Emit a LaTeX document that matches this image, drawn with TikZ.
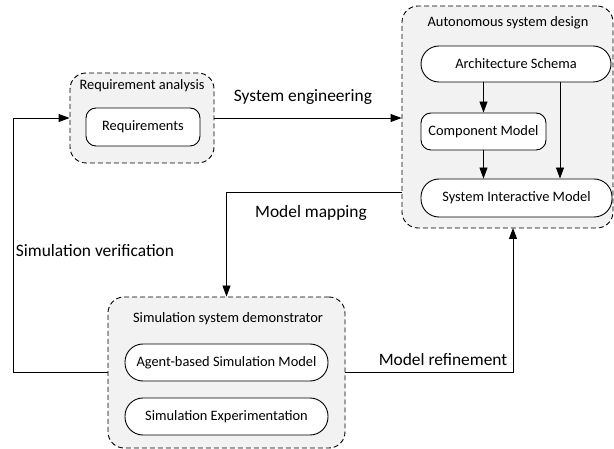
\documentclass[tikz,border=0pt]{standalone}
\usepackage{fontspec}
\setmainfont{Carlito}
\usetikzlibrary{arrows.meta}
\definecolor{groupfill}{HTML}{F2F2F2}
\begin{document}
\begin{tikzpicture}[x=1pt,y=-1pt,
  grp/.style={draw=black, line width=0.9pt, dash pattern=on 5pt off 3pt, fill=groupfill, rounded corners=16pt, inner sep=0pt},
  inbox/.style={draw=black, line width=0.9pt, fill=white, inner sep=0pt, font=\fontsize{14.4}{17}\selectfont},
  pill/.style={inbox, rounded corners=18pt},
  rbox/.style={inbox, rounded corners=10pt},
  ttl/.style={inner sep=0pt, font=\fontsize{14.4}{17}\selectfont},
  lbl/.style={inner sep=0pt, font=\fontsize{17.4}{20}\selectfont},
  arr/.style={line width=0.9pt, -{Triangle[length=11pt,width=8pt]}},
  ln/.style={line width=0.9pt}
]
\useasboundingbox (0,0) rectangle (614,449);

% Requirement analysis group
\node[grp, minimum width=144pt, minimum height=90pt] (req) at (142,118) {};
\node[ttl] (reqt) at (142,86) {Requirement analysis};
\node[rbox, minimum width=114pt, minimum height=38pt] (reqs) at (143,127) {Requirements};

% Autonomous system design group
\node[grp, minimum width=211pt, minimum height=222pt] (auto) at (507.5,117) {};
\node[ttl] (autot) at (508,23) {Autonomous system design};
\node[pill, minimum width=190pt, minimum height=36pt] (arch) at (516,64) {Architecture Schema};
\node[rbox, minimum width=125pt, minimum height=37pt] (comp) at (483.5,131.5) {Component Model};
\node[pill, minimum width=191pt, minimum height=38pt] (sim) at (516.5,198) {System Interactive Model};

% Simulation system demonstrator group
\node[grp, minimum width=237pt, minimum height=151pt] (simg) at (226.5,372.5) {};
\node[ttl] (simt) at (228,319) {Simulation system demonstrator};
\node[pill, minimum width=203pt, minimum height=37pt] (agent) at (226.5,362.5) {Agent-based Simulation Model};
\node[pill, minimum width=203pt, minimum height=37pt] (exp) at (226.5,416.5) {Simulation Experimentation};

% inner arrows
\draw[arr] (comp.north |- arch.south) -- (comp.north);
\draw[arr] (comp.south) -- (comp.south |- sim.north);
\coordinate (a2s) at (560,82);
\draw[arr] (a2s) -- (a2s |- sim.north);

% connectors
\draw[arr] (req.east) -- (auto.west |- req.east);
\node[lbl] (lse) at (303,97) {System engineering};

\coordinate (mm) at (402,192);
\draw[arr] (mm) -| (simg.north);
\node[lbl] (lmm) at (311,213) {Model mapping};

\coordinate (mr) at (513,228);
\draw[arr] (simg.east) -| (mr);
\node[lbl] (lmr) at (443,360) {Model refinement};

\coordinate (lc) at (13,372.5);
\draw[arr] (simg.west) -- (lc) |- (req.west);
\node[lbl] (lsv) at (95,251) {Simulation verification};
\end{tikzpicture}
\end{document}
